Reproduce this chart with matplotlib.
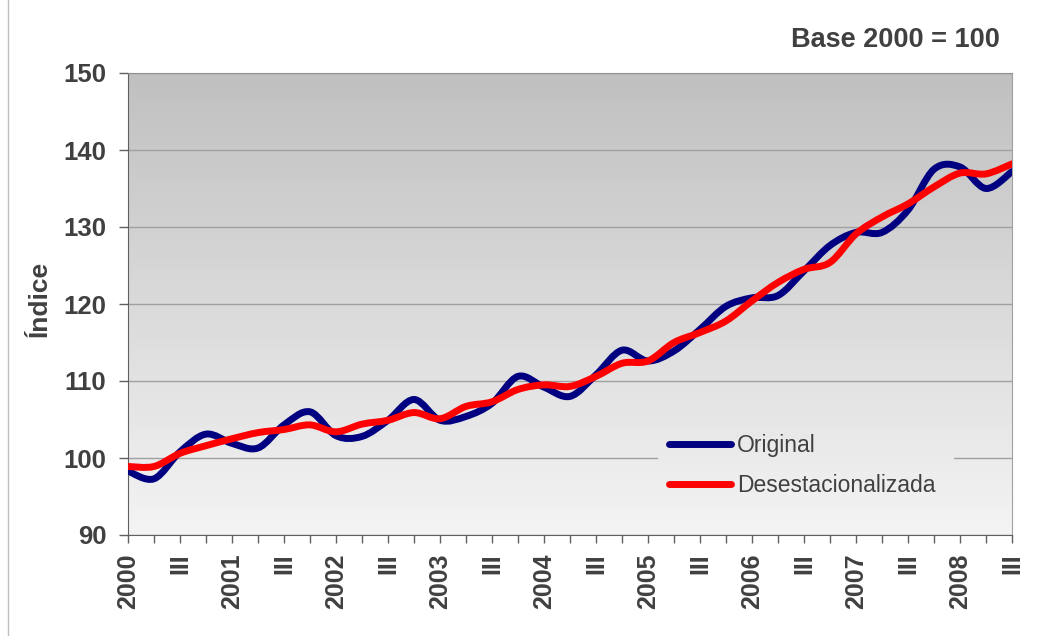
import numpy as np
import matplotlib
matplotlib.use("Agg")
import matplotlib.pyplot as plt
from matplotlib.colors import LinearSegmentedColormap
from matplotlib.lines import Line2D
from matplotlib.patches import PathPatch
from matplotlib.path import Path

plt.rcParams["font.family"] = ["Liberation Sans", "DejaVu Sans"]

# -----------------------
# Data (quarterly index, base 2000 = 100)
# -----------------------
years = list(range(2000, 2009))
quarter_names = ["I", "II", "III", "IV"]

original = [98.3, 97.3, 100.8, 103.1, 101.9, 101.3, 104.3, 106.0, 102.9, 102.8,
            104.9, 107.6, 104.9, 105.4, 107.1, 110.6, 109.2, 108.0, 110.8, 114.0,
            112.6, 113.9, 116.7, 119.7, 120.8, 121.1, 124.3, 127.6, 129.3, 129.3,
            132.2, 137.5, 137.8, 135.0, 137.2]

desestacionalizada = [98.9, 98.9, 100.6, 101.6, 102.5, 103.3, 103.7, 104.3, 103.4, 104.4,
                      104.9, 105.9, 105.1, 106.7, 107.3, 108.9, 109.5, 109.3, 110.6, 112.3,
                      112.6, 115.0, 116.3, 117.8, 120.4, 122.8, 124.5, 125.4, 129.1, 131.3,
                      133.0, 135.2, 137.0, 136.9, 138.2]

y_ticks = [90, 100, 110, 120, 130, 140, 150]

# year label on Q1, "III" on Q3, blank otherwise
tick_labels = []
for yr in years:
    for q in quarter_names:
        if q == "I":
            tick_labels.append(str(yr))
        elif q == "III":
            tick_labels.append("III")
        else:
            tick_labels.append("")
tick_labels = tick_labels[:len(original)]

TEXT = "#404040"
Y_MIN, Y_MAX = 90, 150


def smooth_path(xs, ys):
    """Bezier path through the points, Excel-style smoothing."""
    pts = np.column_stack([xs, ys]).astype(float)
    ext = np.vstack([pts[0], pts, pts[-1]])
    verts = [pts[0]]
    codes = [Path.MOVETO]
    for i in range(len(pts) - 1):
        p0, p1, p2, p3 = ext[i], ext[i + 1], ext[i + 2], ext[i + 3]
        c1 = p1 + (p2 - p0) / 6.0
        c2 = p2 - (p3 - p1) / 6.0
        verts += [c1, c2, p2]
        codes += [Path.CURVE4] * 3
    return Path(verts, codes)


def gradient(ax, x0, x1, y0, y1, zorder):
    """Vertical grey fill, shade taken from the y position inside the plot area."""
    vals = np.linspace((y0 - Y_MIN) / (Y_MAX - Y_MIN), (y1 - Y_MIN) / (Y_MAX - Y_MIN), 256)
    ax.imshow(vals.reshape(-1, 1), cmap=cmap, vmin=0, vmax=1, origin="lower",
              extent=(x0, x1, y0, y1), aspect="auto", zorder=zorder)


fig = plt.figure(figsize=(10.4, 6.36), dpi=100)
ax = fig.add_axes([128 / 1040, 1 - 535 / 636, 884 / 1040, 462 / 636])

x = np.arange(len(original))
xmax = len(original) - 1

# plot-area gradient
cmap = LinearSegmentedColormap.from_list("bg", ["#f4f4f4", "#c0c0c0"])
gradient(ax, 0, xmax, Y_MIN, Y_MAX, zorder=0)
# legend background: same fill, covering the gridline behind the legend
gradient(ax, 20.4, 31.77, 93.0, 105.0, zorder=1)

series = [
    (original, "#000080", "Original"),
    (desestacionalizada, "#ff0000", "Desestacionalizada"),
]
handles = []
for vals, color, label in series:
    patch = PathPatch(smooth_path(x, vals), facecolor="none", edgecolor=color,
                      lw=5, capstyle="round", joinstyle="round", zorder=3)
    ax.add_patch(patch)
    handles.append(Line2D([], [], color=color, lw=5, solid_capstyle="round", label=label))

ax.set_xlim(0, xmax)
ax.set_ylim(Y_MIN, Y_MAX)
ax.set_yticks(y_ticks)
ax.set_xticks(x)
ax.set_xticklabels(tick_labels, rotation=90, fontsize=18, fontweight="bold", color=TEXT)
ax.tick_params(axis="x", direction="out", length=6, width=1, color="#606060", pad=7)
ax.tick_params(axis="y", direction="out", length=6.5, width=1, color="#606060", pad=9,
               labelsize=18.5, labelcolor=TEXT)
for lbl in ax.get_yticklabels():
    lbl.set_fontweight("bold")

ax.yaxis.grid(True, color="#a0a0a0", lw=1)
ax.set_axisbelow(True)

ax.spines["left"].set_color("#606060")
ax.spines["bottom"].set_color("#606060")
ax.spines["right"].set_color("#a0a0a0")
ax.spines["top"].set_color("#909090")

leg = ax.legend(handles=handles, loc="upper left", bbox_to_anchor=(0.598, 0.245),
                borderaxespad=0, frameon=False, handlelength=2.7,
                handletextpad=0.25, labelspacing=0.72, borderpad=0.55,
                prop={"size": 16.5})
for t in leg.get_texts():
    t.set_color(TEXT)

fig.text(40 / 1040, 1 - 299 / 636, "Índice", rotation=90, ha="center", va="center",
         fontsize=19, fontweight="bold", color=TEXT)
fig.text(1000 / 1040, 1 - 40 / 636, "Base 2000 = 100", ha="right", va="center",
         fontsize=19.5, fontweight="bold", color=TEXT)

# chart-area left border
fig.add_artist(Line2D([8 / 1040, 8 / 1040], [0, 1], transform=fig.transFigure,
                      color="#c0c0c0", lw=1))

fig.savefig("out.png", dpi=100)
plt.close(fig)
